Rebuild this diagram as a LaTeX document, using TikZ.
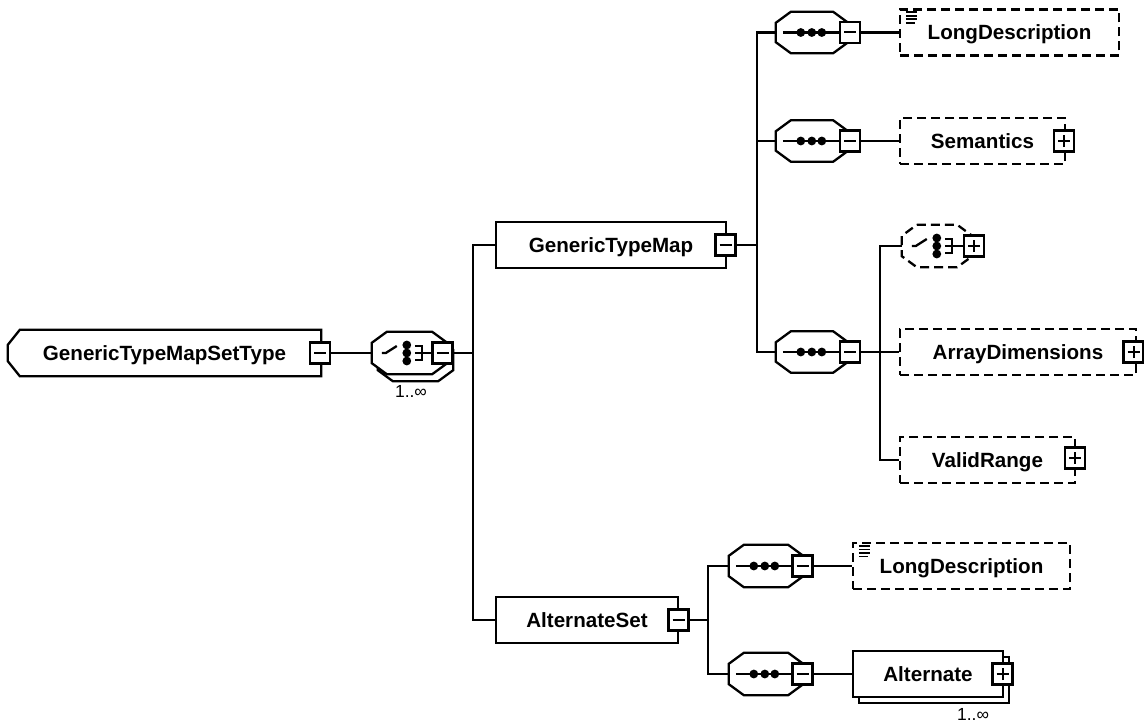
\documentclass[tikz,border=0pt]{standalone}
\usepackage{fontspec}
\setmainfont{Liberation Sans}
\usetikzlibrary{calc,shadows}
\newcommand\octpath[2]{%
  \draw[#2] ([xshift=15pt]#1.north west) -- ([xshift=-15pt]#1.north east) -- ([yshift=-11pt]#1.north east) -- ([yshift=11pt]#1.south east) -- ([xshift=-15pt]#1.south east) -- ([xshift=15pt]#1.south west) -- ([yshift=11pt]#1.south west) -- ([yshift=-11pt]#1.north west) -- cycle;}
\newcommand\seqicon[2]{%
  \draw[line width=2.3pt] ($(#1.west)+(7,0)$) -- (#2.west);
  \foreach \d in {25,36,46} \fill ($(#1.west)+(\d,0)$) circle (4.4pt);}
\newcommand\choiceicon[2]{%
  \draw[line width=2.3pt] ($(#1.west)+(10,0)$) -- ++(4,0) -- ++(11,-7);
  \foreach \d in {-8,0,8} \fill ($(#1.west)+(35,\d)$) circle (4.4pt);
  \draw[line width=2.3pt] ($(#1.west)+(43,-7)$) -- ++(7,0) -- ++(0,14) -- ++(-7,0);
  \draw[line width=2.3pt] ($(#1.west)+(43,0)$) -- (#2.west);}
\newcommand\docicon[1]{%
  \foreach \d/\l in {4/11,7.5/11,11/11,14.5/9} \draw[line width=1.7pt] ($(#1.north west)+(7,\d)$) -- ++(\l,0);}
\begin{document}
\begin{tikzpicture}[x=1pt,y=-1pt,
  lw/.style={line width=2.3pt},
  conn/.style={line width=2.3pt},
  txt/.style={font=\bfseries\fontsize{20.6}{24}\selectfont, text height=14.6pt, text depth=0pt, inner sep=0pt, minimum height=46pt, rectangle},
  elem/.style={txt, draw, lw, fill=white},
  opt/.style={elem, dash pattern=on 9pt off 5pt},
  holder/.style={rectangle, inner sep=0pt, minimum height=42pt},
  pmbox/.style={draw, lw, fill=white, minimum width=20pt, minimum height=21pt, inner sep=0pt},
  minusbox/.style={pmbox, path picture={\draw[line width=2pt] ([xshift=-6pt]path picture bounding box.center) -- ([xshift=6pt]path picture bounding box.center);}},
  plusbox/.style={pmbox, path picture={\draw[line width=2pt] ([xshift=-6pt]path picture bounding box.center) -- ([xshift=6pt]path picture bounding box.center) ([yshift=-6pt]path picture bounding box.center) -- ([yshift=6pt]path picture bounding box.center);}},
  mult/.style={font=\fontsize{17.5}{20}\selectfont, inner sep=0pt, anchor=base},
]
\useasboundingbox (0,0) rectangle (1144,725);

% root complex type
\node[txt, minimum width=313pt] (root) at (164.5,353) {GenericTypeMapSetType};
\draw[lw] ([xshift=12pt]root.north west) -- (root.north east) -- (root.south east) -- ([xshift=12pt]root.south west) -- ([yshift=15pt]root.south west) -- ([yshift=-15pt]root.north west) -- cycle;
\node[minusbox] (rootm) at (320,353) {};

% choice compositor 1..inf
\node[holder, minimum width=75pt] (c1s) at (415.5,360) {};
\node[holder, minimum width=75pt] (c1) at (409.5,353) {};
\octpath{c1s}{lw, fill=white}
\octpath{c1}{lw, fill=white}
\node[minusbox] (c1m) at (442.5,353) {};
\choiceicon{c1}{c1m}
\node[mult] (c1mult) at (411,397) {1..∞};
\draw[conn] (rootm.east) -- (c1.west);

% level 1 elements
\coordinate (j1) at (473,353);
\node[elem, minimum width=230pt] (gtm) at (611,245) {GenericTypeMap};
\node[minusbox] (gtmm) at (725.5,245) {};
\node[elem, minimum width=182pt] (as) at (587,620) {AlternateSet};
\node[minusbox] (asm) at (678.5,620) {};
\draw[conn] (c1m.east) -- (j1);
\draw[conn] (j1) |- (gtm.west);
\draw[conn] (j1) |- (as.west);

% GenericTypeMap sequences
\coordinate (j2) at (757,245);
\draw[conn] (gtmm.east) -- (j2);
\foreach \n/\y in {s1/32.5,s2/141,s3/352}{
  \node[holder, minimum width=72pt, minimum height=41pt] (\n) at (812,\y) {};
  \octpath{\n}{lw, fill=white}
  \node[minusbox] (\n m) at (850,\y) {};
  \seqicon{\n}{\n m}
  \draw[conn] (j2) |- (\n.west);
}
\node[opt, minimum width=219pt] (ld1) at (1009.5,32.5) {LongDescription};
\docicon{ld1}
\draw[conn] (s1m.east) -- (ld1.west);
\node[opt, minimum width=165pt] (sem) at (982.5,141) {Semantics};
\node[plusbox] (semp) at (1064,141) {};
\draw[conn] (s2m.east) -- (sem.west);

% third sequence children
\coordinate (j3) at (880,352);
\draw[conn] (s3m.east) -- (j3);
\node[holder, minimum width=70pt] (c2) at (937,246) {};
\octpath{c2}{lw, dash pattern=on 9pt off 5pt, fill=white}
\node[plusbox] (c2p) at (974,246) {};
\choiceicon{c2}{c2p}
\node[opt, minimum width=236pt] (ad) at (1018,352) {ArrayDimensions};
\node[plusbox] (adp) at (1133.5,352) {};
\node[opt, minimum width=175pt] (vr) at (987.5,460) {ValidRange};
\node[plusbox] (vrp) at (1075,458) {};
\draw[conn] (j3) |- (c2.west);
\draw[conn] (j3) -- (ad.west);
\draw[conn] (j3) |- (vr.west);

% AlternateSet sequences
\coordinate (j4) at (708,620);
\draw[conn] (asm.east) -- (j4);
\foreach \n/\y in {s4/566,s5/674}{
  \node[holder, minimum width=74pt, minimum height=42pt] (\n) at (766,\y) {};
  \octpath{\n}{lw, fill=white}
  \node[minusbox] (\n m) at (802.5,\y) {};
  \seqicon{\n}{\n m}
  \draw[conn] (j4) |- (\n.west);
}
\node[opt, minimum width=217pt] (ld2) at (961.5,566) {LongDescription};
\docicon{ld2}
\draw[conn] (s4m.east) -- (ld2.west);
\node[elem, minimum width=150pt, copy shadow={shadow xshift=6pt, shadow yshift=-6pt, draw, line width=2.3pt, fill=white}] (alt) at (928,674) {Alternate};
\node[plusbox] (altp) at (1002.5,674) {};
\node[mult] (altmult) at (973,720) {1..∞};
\draw[conn] (s5m.east) -- (alt.west);
\end{tikzpicture}
\end{document}
